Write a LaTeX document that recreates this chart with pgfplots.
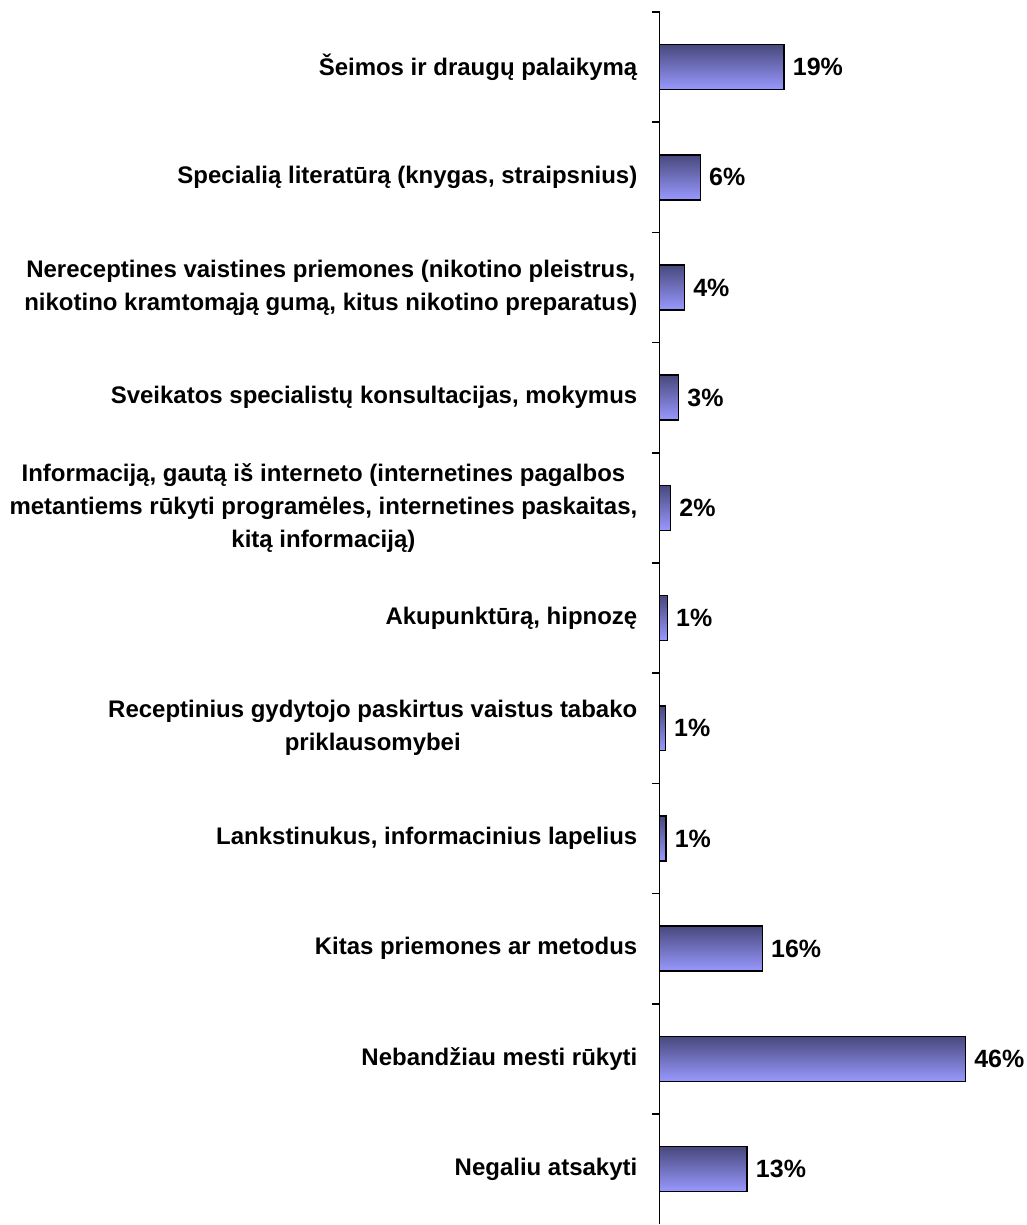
\documentclass[border=0pt]{standalone}
\usepackage{pgfplots}
\pgfplotsset{compat=1.18}
\usepackage{fontspec}
\setmainfont{Liberation Sans}
\definecolor{barTop}{RGB}{72,72,125}
\definecolor{barMid}{RGB}{115,115,200}
\definecolor{barBot}{RGB}{153,153,255}
\begin{document}
\begin{tikzpicture}[font=\fontsize{24}{33}\selectfont\bfseries]
\begin{axis}[
  scale only axis, width=330pt, height=1213pt,
  xmin=0, xmax=50, ymin=-0.5, ymax=10.5, y dir=reverse,
  axis x line=none, axis y line*=left,
  axis line style={line width=1.8pt, black},
  ytick={0,...,10},
  yticklabels={
    {Šeimos ir draugų palaikymą},
    {Specialią literatūrą (knygas, straipsnius)},
    {Nereceptines vaistines priemones (nikotino pleistrus,\\nikotino kramtomąją gumą, kitus nikotino preparatus)},
    {Sveikatos specialistų konsultacijas, mokymus},
    {Informaciją, gautą iš interneto (internetines pagalbos\\metantiems rūkyti programėles, internetines paskaitas,\\kitą informaciją)},
    {Akupunktūrą, hipnozę},
    {Receptinius gydytojo paskirtus vaistus tabako\\priklausomybei},
    {Lankstinukus, informacinius lapelius},
    {Kitas priemones ar metodus},
    {Nebandžiau mesti rūkyti},
    {Negaliu atsakyti}},
  major tick length=0pt,
  minor ytick={-0.5,0.5,...,9.5},
  minor tick length=8pt, tick align=outside,
  every tick/.style={line width=1.6pt, black},
  yticklabel style={align=center, inner sep=0pt, xshift=-22pt, font=\fontsize{24}{33}\selectfont\bfseries},
  xbar, bar width=45pt, bar shift=0pt,
  point meta=x,
  nodes near coords={\pgfmathprintnumber[fixed,precision=0,assume math mode=true]{\pgfplotspointmeta}\%},
  nodes near coords style={anchor=west, inner sep=0pt, xshift=8pt, text=black, font=\fontsize{25}{33}\selectfont\bfseries},
  clip=false,
  mybar/.style={draw=black, line width=1.5pt, top color=barTop, middle color=barMid, bottom color=barBot},
]
\addplot[mybar] coordinates {(18.9,0)};
\addplot[mybar] coordinates {(6.2,1)};
\addplot[mybar] coordinates {(3.8,2)};
\addplot[mybar] coordinates {(2.9,3)};
\addplot[mybar] coordinates {(1.7,4)};
\addplot[mybar] coordinates {(1.2,5)};
\addplot[mybar] coordinates {(0.9,6)};
\addplot[mybar] coordinates {(1.0,7)};
\addplot[mybar] coordinates {(15.6,8)};
\addplot[mybar] coordinates {(46.4,9)};
\addplot[mybar] coordinates {(13.3,10)};
\path (axis cs:0,-0.5) ++(-660pt,12pt) coordinate (tl);
\path (axis cs:0,10.5) ++(367pt,0pt) coordinate (br);
\path (tl) rectangle (br);
\end{axis}
\end{tikzpicture}
\end{document}
